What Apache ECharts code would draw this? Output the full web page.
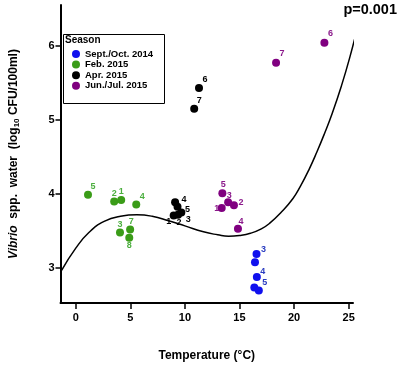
<!DOCTYPE html>
<html>
<head>
<meta charset="utf-8">
<script src="https://cdn.jsdelivr.net/npm/echarts@6/dist/echarts.min.js"></script>
<style>
  html, body { margin: 0; padding: 0; background: #fff; }
  #chart { width: 403px; height: 367px; }
</style>
</head>
<body>
<div id="chart"></div>
<script>
const FONT = '"Liberation Sans", Arial, sans-serif';

// season samples: temperature (°C), log10 CFU/100ml, sample number
const sepOctTemp = [16.56, 16.42, 16.59, 16.36, 16.77];
const sepOctVibrio = [3.19, 3.08, 2.88, 2.74, 2.70];
const sepOctIds = ['3', '', '4', '', '5'];

const febTemp = [1.12, 3.52, 4.16, 5.54, 4.05, 4.98, 4.90];
const febVibrio = [3.99, 3.90, 3.92, 3.86, 3.48, 3.52, 3.41];
const febIds = ['5', '2', '1', '4', '3', '7', '8'];

const aprTemp = [11.29, 10.85, 9.10, 9.32, 9.67, 9.37, 8.97];
const aprVibrio = [5.43, 5.15, 3.89, 3.83, 3.75, 3.72, 3.71];
const aprIds = ['6', '7', '4', '5', '3', '2', '1'];

const junJulTemp = [13.43, 13.96, 14.49, 13.37, 14.86, 22.78, 18.35];
const junJulVibrio = [4.01, 3.89, 3.85, 3.81, 3.53, 6.04, 5.77];
const junJulIds = ['5', '3', '2', '1', '4', '6', '7'];

// fitted cubic curve
const curveTemp = [-1.3, 0, 1.2, 2.6, 4.1, 5.6, 7.0, 8.5, 10.0, 11.7, 13.0, 14.0, 15.0, 16.0, 17.0, 17.8, 18.8, 19.9, 20.6, 21.4, 22.1, 22.8, 23.5, 24.3, 25.1, 25.9];
const curveVibrio = [2.97, 3.27, 3.48, 3.63, 3.70, 3.72, 3.70, 3.64, 3.57, 3.49, 3.45, 3.43, 3.44, 3.47, 3.53, 3.61, 3.75, 3.94, 4.11, 4.34, 4.57, 4.82, 5.09, 5.44, 5.84, 6.30];

const xTicks = [0, 5, 10, 15, 20, 25];
const yTicks = [3, 4, 5, 6];

const seasons = ['Sept./Oct. 2014', 'Feb. 2015', 'Apr. 2015', 'Jun./Jul. 2015'];

// where each sample number sits relative to its dot (px)
const labelOffsets = {
  'Sept./Oct. 2014': { '3': [7, -5], '4': [6, -6], '5': [6, -8] },
  'Feb. 2015': { '5': [5, -8], '2': [0, -8], '1': [0, -8], '4': [6, -8], '3': [0, -8], '7': [1, -8], '8': [0, 8] },
  'Apr. 2015': { '6': [6, -9], '7': [5, -8], '4': [9, -3], '5': [10, 3], '3': [7, 7], '2': [1, 8], '1': [-5, 6] },
  'Jun./Jul. 2015': { '5': [1, -9], '3': [1, -7], '2': [7, -3], '1': [-5, 0], '4': [3, -7], '6': [6, -9], '7': [6, -9] }
};

function pointSeries(name, temps, vals, ids, color, labelColor) {
  return {
    name: name,
    type: 'scatter',
    symbol: 'circle',
    symbolSize: 8,
    z: 3,
    itemStyle: { color: color, opacity: 1 },
    label: {
      show: true,
      position: 'inside',
      formatter: (p) => p.value[2],
      color: labelColor,
      fontSize: 9,
      fontWeight: 'bold',
      fontFamily: FONT
    },
    data: temps.map((t, i) => ({
      value: [t, vals[i], ids[i]],
      label: { offset: labelOffsets[name][ids[i]] || [0, 0] }
    }))
  };
}

const chart = echarts.init(document.getElementById('chart'), null, { renderer: 'canvas' });

chart.setOption({
  backgroundColor: '#fff',
  animation: false,
  grid: { left: 48, right: 50, top: 5, bottom: 62 },
  xAxis: {
    type: 'value',
    min: -1.4,
    max: 25.4,
    name: 'Temperature (°C)',
    nameLocation: 'middle',
    nameGap: 47,
    nameTextStyle: { color: '#000', fontSize: 12, fontWeight: 'bold', fontFamily: FONT },
    axisLine: { show: true, onZero: false, lineStyle: { color: '#000', width: 2 } },
    axisTick: { show: true, customValues: xTicks, length: 6, lineStyle: { color: '#000', width: 1.5 } },
    axisLabel: { customValues: xTicks, color: '#000', fontSize: 11, fontWeight: 'bold', fontFamily: FONT, margin: 9 },
    splitLine: { show: false }
  },
  yAxis: {
    type: 'value',
    min: 2.53,
    max: 6.55,
    name: '{i|Vibrio}  spp.  water  (log{s|10} CFU/100ml)',
    nameLocation: 'middle',
    nameGap: 40,
    nameTextStyle: {
      color: '#000', fontSize: 12, fontWeight: 'bold', fontFamily: FONT,
      rich: {
        i: { fontStyle: 'italic', fontWeight: 'bold', fontSize: 12, fontFamily: FONT, color: '#000' },
        s: { fontSize: 8, fontWeight: 'bold', fontFamily: FONT, color: '#000', padding: [5, 0, 0, 0] }
      }
    },
    axisLine: { show: true, onZero: false, lineStyle: { color: '#000', width: 2 } },
    axisTick: { show: true, customValues: yTicks, length: 5, lineStyle: { color: '#000', width: 1.5 } },
    axisLabel: { customValues: yTicks, color: '#000', fontSize: 11, fontWeight: 'bold', fontFamily: FONT, margin: 6 },
    splitLine: { show: false }
  },
  legend: {
    data: seasons,
    orient: 'vertical',
    left: 72,
    top: 49,
    padding: 0,
    icon: 'circle',
    itemWidth: 8,
    itemHeight: 8,
    itemGap: 0.6,
    selectedMode: false,
    textStyle: { color: '#000', fontSize: 9.5, fontWeight: 'bold', fontFamily: FONT, lineHeight: 10 }
  },
  graphic: [
    { type: 'rect', left: 61, top: 32, shape: { width: 101, height: 69 }, style: { fill: 'none', stroke: '#000', lineWidth: 1 }, z: 1 },
    { type: 'text', left: 65, top: 35, style: { text: 'Season', fill: '#000', font: 'bold 10px ' + FONT } },
    { type: 'text', right: 6, top: 2, style: { text: 'p=0.001', fill: '#000', font: 'bold 14.5px ' + FONT } }
  ],
  series: [
    {
      type: 'line',
      data: curveTemp.map((t, i) => [t, curveVibrio[i]]),
      smooth: true,
      symbol: 'none',
      clip: false,
      silent: true,
      z: 2,
      lineStyle: { color: '#000', width: 1.5 }
    },
    pointSeries('Sept./Oct. 2014', sepOctTemp, sepOctVibrio, sepOctIds, '#1010ee', '#2a3cc0'),
    pointSeries('Feb. 2015', febTemp, febVibrio, febIds, '#3a9c18', '#4caf3f'),
    pointSeries('Apr. 2015', aprTemp, aprVibrio, aprIds, '#000000', '#000000'),
    pointSeries('Jun./Jul. 2015', junJulTemp, junJulVibrio, junJulIds, '#800080', '#8b1a8b')
  ]
});
</script>
</body>
</html>
